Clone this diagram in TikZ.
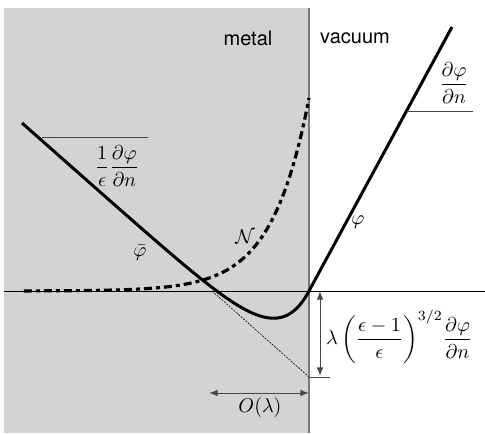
\documentclass[tikz,border=0pt]{standalone}
\usepackage{amsmath, amssymb}
\usepackage{fontspec}
\setsansfont{TeX Gyre Heros}
\usepackage{xcolor}
\usepackage{tikz}
\usetikzlibrary{calc, positioning}

\definecolor{metalgray}{RGB}{211,211,211}
\definecolor{wallgray}{RGB}{120,120,120}
\definecolor{slopegray}{RGB}{70,70,70}

\begin{document}
\begin{tikzpicture}[>=latex, x=0.5pt, y=0.5pt,
    curve/.style={black, line width=1.5pt},
    density/.style={black, line width=1.6pt, dash pattern=on 4pt off 2pt on 2pt off 2pt},
    slopeline/.style={slopegray, line width=0.5pt},
    dimline/.style={slopegray, line width=0.5pt, <->},
    curvelabel/.style={inner sep=1pt}]
    \useasboundingbox (-309,-142) rectangle (176,291);

    % 1. Vùng kim loại, trục và mặt phân cách
    \fill[metalgray] (-305,-142) rectangle (0,283);
    \draw[black, line width=0.5pt] (-305,0) -- (176,0);
    \draw[wallgray, line width=0.7pt] (0,-142) -- (0,283);
    \node[font=\sffamily] (metal) at (-61,253) {metal};
    \node[font=\sffamily] (vacuum) at (46,253) {vacuum};

    % 2. Tiếp tuyến nét đứt mảnh của phần tuyến tính bên trái
    \coordinate (cross) at (-97,0);
    \coordinate (foot) at (0,-86);
    \draw[black, line width=0.3pt, dash pattern=on 1pt off 0.6pt] (cross) -- (foot);

    % 3. Mật độ N (nét chấm gạch) và thế phi (nét liền)
    \draw[density, samples=150, domain=-285:0] plot (\x, {193*exp(\x/37)});
    \draw[curve, samples=150, domain=-287:0] plot (\x, {-0.885*\x - 86 + 86*exp(\x/31)}) -- (143,264);

    % 4. Các tam giác độ dốc
    \coordinate (lslope) at (-267,153);
    \draw[slopeline] (lslope) -- ++(106,0);
    \node (lslopelabel) at (-192,125) {$\dfrac{1}{\epsilon}\dfrac{\partial\varphi}{\partial n}$};
    \coordinate (rslope) at (98,179);
    \draw[slopeline] (rslope) -- ++(66,0);
    \node (rslopelabel) at (145,208) {$\dfrac{\partial\varphi}{\partial n}$};

    % 5. Nhãn các đường cong
    \node[curvelabel] (phi) at (49,69) {$\varphi$};
    \node[curvelabel] (dens) at (-64,54) {$\mathcal{N}$};
    \node[curvelabel] (phibar) at (-169,38) {$\bar{\varphi}$};

    % 6. Kích thước lệch và độ dài O(lambda)
    \coordinate (vtop) at (11,0);
    \coordinate (vbot) at (11,-85);
    \draw[dimline] (vtop) -- (vbot);
    \draw[slopeline] (foot) -- ++(21,0);
    \node[anchor=west] (gap) at (10,-46) {$\lambda\left(\dfrac{\epsilon-1}{\epsilon}\right)^{3/2}\!\dfrac{\partial\varphi}{\partial n}$};
    \coordinate (oleft) at (-100,-102);
    \coordinate (oright) at (0,-102);
    \draw[dimline] (oleft) -- (oright);
    \node (olabel) at (-49,-116) {$O(\lambda)$};

\end{tikzpicture}
\end{document}
